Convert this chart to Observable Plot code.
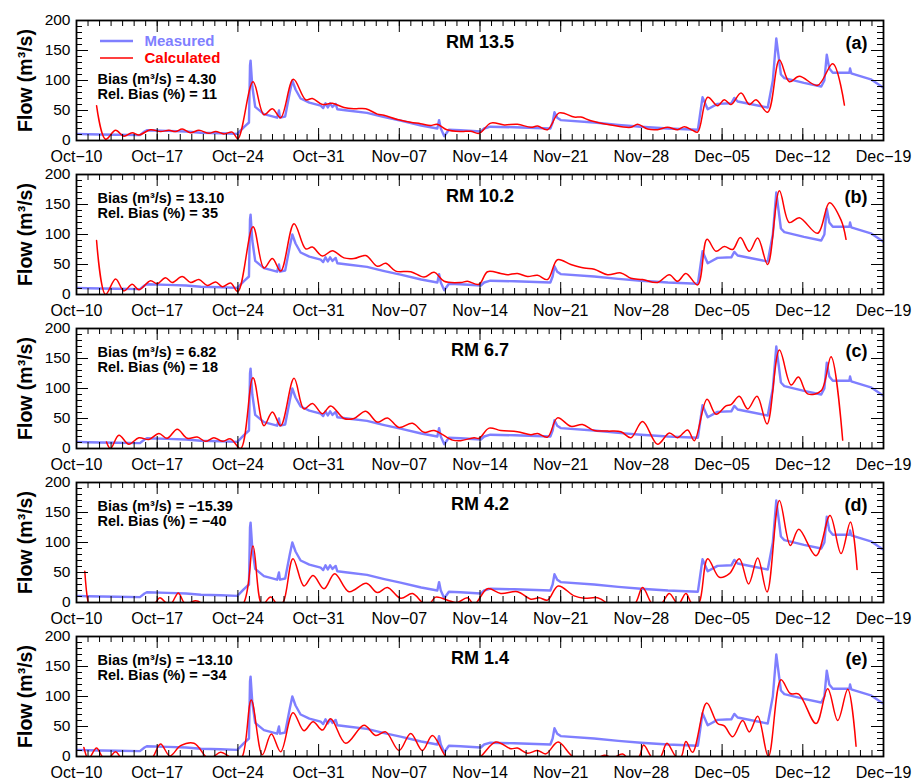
<!DOCTYPE html>
<html><head><meta charset="utf-8">
<script src="https://cdn.jsdelivr.net/npm/d3@7"></script>
<script src="https://cdn.jsdelivr.net/npm/@observablehq/plot@0.6"></script>
<style>
body{margin:0;background:#fff;}
#chart{position:relative;width:914px;height:782px;}
#chart svg{position:absolute;left:0;overflow:visible;background:transparent;}
</style></head><body><div id="chart"></div>
<script>
const startDate = Date.UTC(2011, 9, 10);
const tickDays = [0,7,14,21,28,35,42,49,56,63,70];
const tickLabels = ["Oct\u221210","Oct\u221217","Oct\u221224","Oct\u221231","Nov\u221207","Nov\u221214","Nov\u221221","Nov\u221228","Dec\u221205","Dec\u221212","Dec\u221219"];
const yMajor = [0,50,100,150,200];
const yMinor = [0,10,20,30,40,50,60,70,80,90,100,110,120,130,140,150,160,170,180,190,200];
const panelNames = ["RM 13.5","RM 10.2","RM 6.7","RM 4.2","RM 1.4"];
const panelLetters = ["(a)","(b)","(c)","(d)","(e)"];
const biasValues = ["4.30","13.10","6.82","\u221215.39","\u221213.10"];
const relBiasValues = ["11","35","18","\u221240","\u221234"];
const seriesNames = ["Measured","Calculated"];

// [day since Oct-10, flow m3/s]
const measured = [[0,11],[1,10.5],[2.1,10],[3.5,9.5],[5.5,9],[5.9,15],[6.1,17],[7.9,16],[9.5,15],[10.8,13],[12.5,12],[13.95,11],[14.5,22],[14.96,30],[15.05,125],[15.1,133],[15.25,90],[15.5,56],[16.26,44],[17.4,38],[17.56,50],[17.65,38],[18.1,40],[18.5,80],[18.72,100],[19.0,85],[19.44,70],[20.2,63],[21.18,58],[21.4,54],[21.6,62],[21.8,55],[22.0,62],[22.2,56],[22.48,61],[22.63,52],[23.5,50],[25.2,46],[26.7,39],[28.1,33],[29.9,25],[31.3,20],[31.45,34],[31.6,20],[31.9,7],[32.3,18],[33.3,17],[35.07,15],[35.36,20],[35.9,23],[38,22],[41.1,20],[41.3,30],[41.46,47],[41.7,38],[42.0,34],[44.9,30],[47,26],[48.96,23],[51.3,20],[53.9,18],[54.1,45],[54.3,72],[54.75,52],[55.6,61],[56.8,62],[57.06,71],[57.35,65],[59.96,55],[60.4,100],[60.7,170],[61.1,110],[61.4,104],[63.1,96],[64.6,90],[64.87,100],[65.08,143],[65.3,120],[65.6,113],[67.04,113],[67.1,120],[67.2,112],[68.9,102],[70.0,88]];

const calcA = [[1.74,58],[2.52,2],[3.39,17],[4.11,7],[4.83,13],[5.41,9],[6.42,18],[7.29,15],[8.02,17],[8.6,15],[9.17,19],[9.9,13],[10.62,17],[11.49,12],[12.07,15],[12.79,11],[13.51,14],[14.0,3],[15.31,98],[16.26,43],[16.99,53],[17.71,38],[18.81,102],[19.88,68],[20.46,70],[21.33,60],[22.19,62],[23.2,55],[24.07,53],[25.09,53],[26.1,44],[26.67,42],[27.83,35],[28.98,30.5],[29.85,28],[30.7,25],[31.28,27],[32.12,18],[33.33,15],[34.2,15.5],[34.92,12],[35.94,29],[37.1,26],[38.25,27],[39.41,22],[39.99,24],[40.86,18],[41.87,46],[43.17,39],[43.75,39],[44.62,33],[46.35,26],[48.09,22],[48.67,27],[49.54,19],[50.4,18],[51.27,22],[52.14,18],[52.72,23],[53.44,17],[53.88,14],[54.75,72],[55.61,58],[56.19,68],[56.77,60],[57.64,79],[58.36,60],[58.94,68],[59.95,47],[60.97,134],[61.83,98],[62.7,107],[64.29,92],[65.6,128],[66.61,59]];
const calcB = [[1.74,90],[2.52,0],[3.39,26],[4.11,6],[4.83,17],[5.41,8],[6.42,23],[7.0,18],[7.72,28],[8.3,20],[9.17,30],[9.9,20],[10.62,25],[11.35,15],[12.07,21],[12.65,13],[13.37,19],[14.0,5],[15.31,113],[16.26,44],[16.99,60],[17.71,39],[18.87,118],[19.88,76],[20.46,79],[21.33,64],[22.19,73],[23.2,61],[24.07,60],[25.09,65],[26.1,47],[26.83,52],[27.69,39],[29.0,38],[30.15,29],[31.02,37],[31.89,22],[33.33,20],[33.91,22],[34.92,17],[35.65,38],[36.8,35],[37.38,33],[38.25,35],[39.12,30],[39.99,32],[40.86,25],[41.72,58],[42.88,50],[44.04,44],[44.91,42],[46.06,33],[47.22,36],[48.09,27],[49.1,25],[50.4,20],[51.42,33],[52.14,22],[52.86,35],[53.88,16],[54.69,92],[55.47,72],[56.19,80],[56.92,75],[57.58,95],[58.36,72],[59.09,94],[59.95,50],[60.97,173],[61.83,120],[62.7,128],[64.29,102],[65.31,153],[66.32,124],[66.75,92]];
const calcC = [[2.6,11],[2.95,0],[3.68,22],[4.54,7],[5.41,18],[6.28,15],[7.15,25],[7.87,17],[8.74,32],[9.61,17],[10.47,19],[11.2,12],[11.92,18],[12.64,12],[13.37,16],[14.24,0],[15.31,118],[16.26,38],[16.99,61],[17.71,38],[18.87,117],[19.73,66],[20.46,75],[21.33,58],[22.05,71],[23.2,50],[24.07,50],[25.09,62],[26.1,44],[26.97,51],[27.98,35],[29.14,42],[30.15,27],[31.02,30],[32.61,14],[33.33,13],[34.49,18],[34.92,17],[35.79,34],[36.8,30],[38.25,28],[39.41,23],[39.99,25],[40.86,19],[41.72,51],[42.88,37],[43.89,40],[44.91,30],[46.06,29],[47.22,28],[48.09,18],[49.1,45],[50.4,7],[51.42,26],[52.14,18],[53.01,31],[53.59,13],[54.69,82],[55.47,57],[56.34,71],[56.77,73],[57.49,87],[58.22,66],[59.03,87],[59.9,41],[60.97,164],[61.98,106],[62.62,119],[63.42,91],[64.58,96],[65.45,153],[66.46,14]];
const calcD = [[0.72,52],[1.01,0],[1.5,-30],[3,-45],[5,-40],[6.86,0],[7.23,8],[7.73,0],[8.0,-4],[8.3,0],[8.83,16],[9.32,0],[9.6,-3],[9.9,0],[10.33,3],[10.76,0],[12.5,-45],[14.53,0],[15.31,94],[16.1,-4],[16.84,9],[17.5,-5],[17.94,1],[18.78,73],[19.73,27.5],[20.52,45],[21.47,23],[22.4,48],[23.64,18],[25.14,32],[26.1,16.5],[26.97,25],[28.12,7],[29.14,15],[30.0,0],[30.35,-3],[30.73,0],[31.16,9],[32.47,2],[33.04,0],[33.91,8],[34.5,-3],[35.65,23],[36.8,15],[38.25,18],[39.41,5.5],[40.13,8],[40.86,4],[41.78,27.5],[43.17,11],[44.04,7],[45.2,8],[45.92,0],[47.2,-30],[48.52,0],[49.1,25],[49.83,0],[50.3,-10],[50.84,0],[51.42,15],[52.0,0],[52.2,-4],[52.37,0],[52.86,15],[53.3,0],[53.6,-6],[54.02,0],[54.75,73],[55.76,42],[56.63,48],[57.49,73],[58.3,31],[59.09,74],[59.9,17.6],[60.97,170],[61.92,95],[62.65,122],[64.15,78],[65.36,145],[66.32,81.5],[67.13,134],[67.71,55]];
const calcE = [[0.64,15],[0.87,0],[1.0,-5],[1.22,0],[1.74,14],[2.23,0],[2.6,-5],[2.95,0],[3.39,8],[3.76,0],[5.2,-40],[6.66,0],[7.29,21],[8.1,1],[9.03,18],[10.19,22],[11.2,0],[11.5,-4],[11.92,0],[12.5,7],[13.22,0],[13.8,-8],[14.38,0],[15.16,94],[16.12,3],[16.9,37.5],[17.71,8],[18.78,73],[19.73,43],[20.52,58],[21.33,44],[22.05,63],[23.35,22],[24.94,52],[25.95,35],[26.82,41],[27.98,10],[28.99,38.5],[30.0,10],[30.87,35],[32.03,0],[33.5,-25],[35.07,0],[36.37,24],[37.67,13],[38.25,14],[39.12,5.5],[39.99,10],[40.71,4.4],[41.78,24],[43.03,0],[44.4,-10],[45.77,2],[46.5,-2],[47.37,4],[48.1,-8],[48.81,0],[49.19,19],[49.83,0],[50.2,-8],[50.69,0],[51.22,22],[52.0,0],[52.43,-1],[52.86,25],[53.44,7],[54.66,89],[55.61,55],[56.19,51],[56.92,33],[57.78,60],[58.36,41],[59.09,67],[60.01,0],[61.11,128],[61.92,105],[62.65,104],[64.15,55],[65.16,113],[66.03,60],[66.9,112],[67.62,17]];
const calcSeries = [calcA, calcB, calcC, calcD, calcE];

const measColor = "#7f7fff";
const calcColor = "#ff0000";
const FONT = "'Liberation Sans', Arial, Helvetica, sans-serif";
const toDate = d => new Date(startDate + d * 864e5);
const minorDays = d3.range(0, 71);
const labelOf = d => tickLabels[tickDays.indexOf(Math.round((+d - startDate) / 864e5))];

const W = 914, H = 155, ML = 76, MR = 31, MT = 20, MB = 15, PITCH = 154;
const PW = W - ML - MR, PH = H - MT - MB;
const container = document.getElementById("chart");

calcSeries.forEach((calc, i) => {
  const first = i === 0;
  const biasDy = first ? 59 : 23.5;
  const relDy = first ? 73.5 : 38.5;
  const txt = (s, o) => Plot.text([s], {text: d => d, lineAnchor: "middle", fontWeight: "bold", fill: "#000", ...o});
  const marks = [
    Plot.line(measured, {x: d => toDate(d[0]), y: d => d[1], stroke: measColor, strokeWidth: 2.4, clip: true}),
    Plot.line(calc, {x: d => toDate(d[0]), y: d => d[1], stroke: calcColor, strokeWidth: 1.5, curve: "catmull-rom", clip: true}),
    Plot.tickX(minorDays, {x: toDate, insetTop: PH - 6, stroke: "#000", strokeWidth: 1}),
    Plot.tickX(minorDays, {x: toDate, insetBottom: PH - 6, stroke: "#000", strokeWidth: 1}),
    Plot.tickX(tickDays, {x: toDate, insetTop: PH - 12, stroke: "#000", strokeWidth: 1}),
    Plot.tickX(tickDays, {x: toDate, insetBottom: PH - 12, stroke: "#000", strokeWidth: 1}),
    Plot.tickY(yMinor, {y: d => d, insetRight: PW - 6, stroke: "#000", strokeWidth: 1}),
    Plot.tickY(yMinor, {y: d => d, insetLeft: PW - 6, stroke: "#000", strokeWidth: 1}),
    Plot.tickY(yMajor, {y: d => d, insetRight: PW - 12, stroke: "#000", strokeWidth: 1}),
    Plot.tickY(yMajor, {y: d => d, insetLeft: PW - 12, stroke: "#000", strokeWidth: 1}),
    Plot.frame({stroke: "#000", strokeWidth: 1.8}),
    Plot.axisX(tickDays.map(toDate), {tickSize: 0, tickPadding: 10, tickFormat: labelOf, fontSize: 16, label: null, fill: "#000"}),
    Plot.axisY(yMajor, {tickSize: 0, tickPadding: 6, fontSize: 15.5, label: null, fill: "#000"}),
    txt("Flow (m\u00b3/s)", {frameAnchor: "left", rotate: -90, dx: -51, textAnchor: "middle", fontSize: 19.5}),
    txt(panelNames[i], {frameAnchor: "top", dy: 22, textAnchor: "middle", fontSize: 18}),
    txt(panelLetters[i], {frameAnchor: "top-right", dx: -16, dy: 23, textAnchor: "end", fontSize: 18}),
    txt("Bias (m\u00b3/s) = " + biasValues[i], {frameAnchor: "top-left", dx: 21, dy: biasDy, textAnchor: "start", fontSize: 14.5}),
    txt("Rel. Bias (%) = " + relBiasValues[i], {frameAnchor: "top-left", dx: 21, dy: relDy, textAnchor: "start", fontSize: 14.5})
  ];
  if (first) {
    marks.push(txt(seriesNames[0], {frameAnchor: "top-left", dx: 68, dy: 21, textAnchor: "start", fontSize: 15, fill: measColor}));
    marks.push(txt(seriesNames[1], {frameAnchor: "top-left", dx: 68, dy: 38, textAnchor: "start", fontSize: 15, fill: calcColor}));
  }
  const svg = Plot.plot({
    width: W, height: H, marginLeft: ML, marginRight: MR, marginTop: MT, marginBottom: MB,
    style: {fontFamily: FONT, fontSize: "16px", background: "transparent", overflow: "visible", color: "#000"},
    x: {type: "utc", domain: [toDate(0), toDate(70)]},
    y: {domain: [0, 200]},
    marks
  });
  svg.style.top = (i * PITCH) + "px";
  if (first) {
    const s = d3.select(svg);
    s.append("line").attr("x1", 100).attr("x2", 133).attr("y1", 41).attr("y2", 41)
      .attr("stroke", measColor).attr("stroke-width", 2.4);
    s.append("line").attr("x1", 100).attr("x2", 133).attr("y1", 58).attr("y2", 58)
      .attr("stroke", calcColor).attr("stroke-width", 1.5);
  }
  container.appendChild(svg);
});
</script></body></html>
